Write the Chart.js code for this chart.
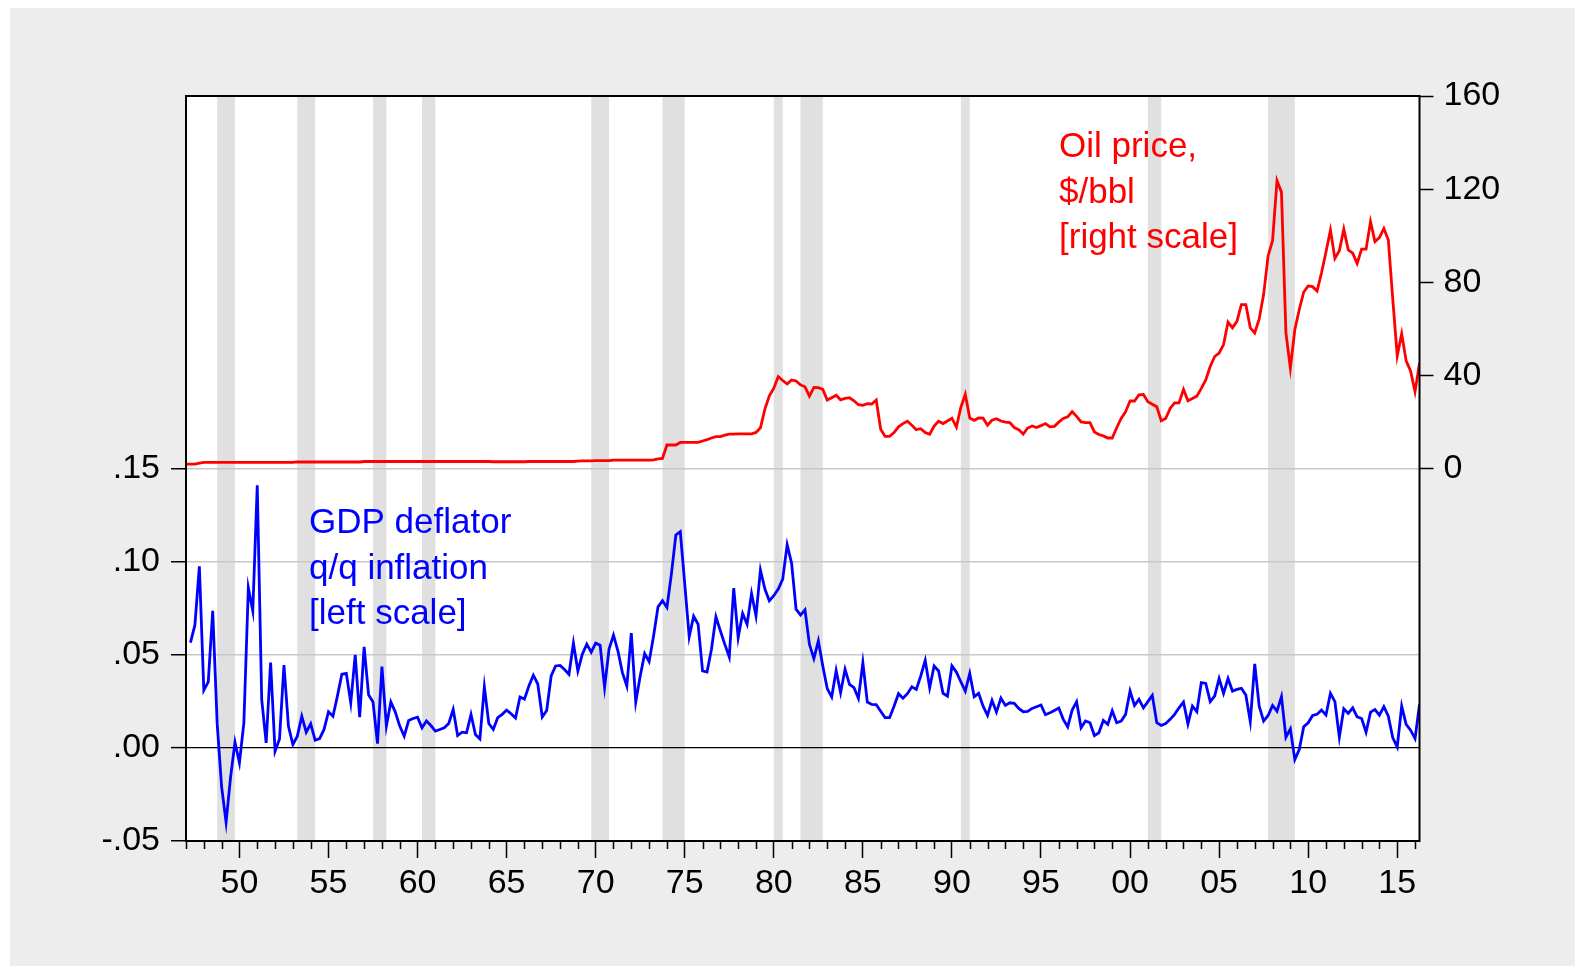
<!DOCTYPE html>
<html>
<head>
<meta charset="utf-8">
<script src="https://cdn.jsdelivr.net/npm/chart.js@4.4.1/dist/chart.umd.min.js"></script>
<style>
  html, body { margin: 0; padding: 0; background: #ffffff; }
  canvas { display: block; }
</style>
</head>
<body>
<canvas id="oilChart" width="1585" height="974"></canvas>
<script>
// quarterly data, 1947Q1 .. 2016Q2, one row per year
var firstYear = 1947;

// GDP deflator q/q inflation (left scale), no value for 1947Q1
var inflation = [
  null, 0.0565, 0.0659, 0.0975,
  0.0309, 0.0354, 0.0736, 0.013,
  -0.021, -0.040, -0.016, 0.003,
  -0.008, 0.0135, 0.086, 0.0736,
  0.141, 0.026, 0.0027, 0.0458,
  -0.0018, 0.0048, 0.0445, 0.0117,
  0.0018, 0.0063, 0.017, 0.0084,
  0.0129, 0.0041, 0.005, 0.0099,
  0.0194, 0.017, 0.0278, 0.0395,
  0.040, 0.0242, 0.0499, 0.0165,
  0.0542, 0.0285, 0.0246, 0.0023,
  0.0436, 0.0117, 0.0246, 0.0192,
  0.0117, 0.0063, 0.0147, 0.0158,
  0.0165, 0.0108, 0.0144, 0.012,
  0.009, 0.0099, 0.0108, 0.0131,
  0.0206, 0.0066, 0.0084, 0.0081,
  0.018, 0.0072, 0.0048, 0.0328,
  0.0131, 0.0099, 0.0162, 0.018,
  0.0203, 0.0183, 0.016, 0.0273,
  0.0262, 0.0332, 0.039, 0.0343,
  0.0166, 0.0201, 0.0386, 0.044,
  0.0443, 0.0421, 0.0395, 0.0562,
  0.0413, 0.0503, 0.0557, 0.0514,
  0.0562, 0.0551, 0.0325, 0.053,
  0.0605, 0.052, 0.0404, 0.0332,
  0.0616, 0.0246, 0.0386, 0.0506,
  0.0463, 0.0601, 0.0757, 0.079,
  0.0754, 0.0933, 0.1143, 0.1161,
  0.088, 0.0596, 0.0707, 0.0664,
  0.0413, 0.0407, 0.053, 0.0704,
  0.0628, 0.0556, 0.0488, 0.0858,
  0.0592, 0.0722, 0.0664, 0.0829,
  0.0709, 0.0955, 0.0853, 0.079,
  0.0817, 0.0853, 0.0906, 0.1091,
  0.0991, 0.0745, 0.0713, 0.0741,
  0.0556, 0.0479, 0.0574, 0.044,
  0.0318, 0.0273, 0.0416, 0.0296,
  0.0422, 0.0341, 0.0323, 0.0266,
  0.0458, 0.0246, 0.0233, 0.0232,
  0.0197, 0.0162, 0.0162, 0.0224,
  0.0291, 0.0266, 0.0291, 0.0328,
  0.0314, 0.0386, 0.047, 0.0323,
  0.044, 0.0413, 0.0293, 0.0278,
  0.044, 0.0407, 0.0355, 0.0305,
  0.04, 0.0275, 0.0293, 0.0224,
  0.0174, 0.0255, 0.0192, 0.0267,
  0.0228, 0.0242, 0.0239, 0.0212,
  0.0194, 0.0196, 0.0212, 0.0221,
  0.023, 0.0178, 0.0188, 0.0201,
  0.0214, 0.0153, 0.0113, 0.0203,
  0.0248, 0.0108, 0.0144, 0.0135,
  0.0066, 0.0081, 0.0147, 0.0126,
  0.0199, 0.0135, 0.0144, 0.018,
  0.0305, 0.0228, 0.026, 0.0215,
  0.0248, 0.0282, 0.0135, 0.012,
  0.0131, 0.0153, 0.018, 0.0215,
  0.0246, 0.0129, 0.0224, 0.0194,
  0.035, 0.0346, 0.0248, 0.0278,
  0.0372, 0.0293, 0.0372, 0.0305,
  0.0314, 0.032, 0.0284, 0.0142,
  0.0451, 0.0224, 0.0144, 0.0174,
  0.0228, 0.0197, 0.0275, 0.0057,
  0.0102, -0.0063, -0.0009, 0.0113,
  0.0135, 0.0174, 0.018, 0.0203,
  0.0176, 0.0293, 0.0248, 0.0057,
  0.021, 0.0185, 0.0215, 0.0167,
  0.0158, 0.0084, 0.0192, 0.0206,
  0.0176, 0.0221, 0.017, 0.0054,
  0.0005, 0.0224, 0.0126, 0.0095,
  0.005, 0.0233
];

// oil price, $/bbl (right scale)
var oilPrice = [
  1.9, 1.9, 1.9, 2.3,
  2.6, 2.6, 2.6, 2.6,
  2.6, 2.6, 2.6, 2.6,
  2.6, 2.6, 2.6, 2.6,
  2.6, 2.6, 2.6, 2.6,
  2.6, 2.6, 2.6, 2.6,
  2.6, 2.8, 2.8, 2.8,
  2.8, 2.8, 2.8, 2.8,
  2.8, 2.8, 2.8, 2.8,
  2.8, 2.8, 2.8, 2.8,
  3.0, 3.0, 3.0, 3.0,
  3.0, 3.0, 3.0, 3.0,
  3.0, 3.0, 3.0, 3.0,
  3.0, 3.0, 3.0, 3.0,
  3.0, 3.0, 3.0, 3.0,
  3.0, 3.0, 3.0, 3.0,
  3.0, 3.0, 3.0, 3.0,
  3.0, 2.9, 2.9, 2.9,
  2.9, 2.9, 2.9, 2.9,
  2.9, 3.0, 3.0, 3.0,
  3.0, 3.0, 3.0, 3.0,
  3.0, 3.0, 3.0, 3.0,
  3.2, 3.3, 3.3, 3.3,
  3.35, 3.35, 3.35, 3.35,
  3.6, 3.6, 3.6, 3.6,
  3.6, 3.6, 3.6, 3.6,
  3.6, 3.7, 4.1, 4.3,
  10.1, 10.1, 10.1, 11.2,
  11.2, 11.2, 11.2, 11.2,
  11.8, 12.4, 13.1, 13.7,
  13.7, 14.3, 14.8, 14.8,
  14.85, 14.85, 14.85, 14.85,
  15.5, 17.5, 25.5, 31.2,
  34.5, 39.5, 37.8, 36.3,
  38.0, 37.6, 35.9, 35.1,
  31.1, 34.8, 34.7, 34.0,
  29.4, 30.4, 31.5, 29.5,
  30.1, 30.4, 29.1, 27.4,
  27.1, 27.8, 27.7, 29.4,
  16.9, 13.8, 13.8, 15.4,
  17.9, 19.3, 20.3, 18.6,
  16.7, 17.1, 15.4, 14.7,
  18.2, 20.3, 19.3, 20.4,
  21.6, 17.8, 26.2, 31.9,
  21.7, 20.7, 21.7, 21.6,
  18.6, 20.7, 21.4, 20.4,
  19.9, 19.7, 17.6, 16.7,
  14.8, 17.4, 18.3, 17.6,
  18.4, 19.3, 17.9, 18.1,
  19.9, 21.5, 22.2, 24.4,
  22.4, 20.0, 19.7, 19.7,
  15.7, 14.6, 14.0, 13.1,
  13.1, 17.5, 21.5, 24.4,
  29.0, 29.0, 31.6, 31.8,
  28.7, 27.6, 26.5, 20.5,
  21.5, 25.8, 28.2, 28.2,
  34.0, 29.1, 30.1, 31.1,
  34.4, 38.0, 43.8, 48.1,
  49.6, 53.2, 62.9, 60.4,
  63.2, 70.4, 70.4, 60.4,
  58.2, 64.2, 74.8, 91.3,
  97.8, 123.7, 118.7, 58.2,
  43.1, 59.6, 68.3, 75.8,
  78.4, 78.1, 76.2, 84.1,
  93.0, 102.4, 90.2, 93.5,
  102.8, 93.9, 92.5, 88.1,
  94.2, 94.2, 106.0, 97.5,
  99.2, 103.1, 98.1, 72.6,
  48.4, 57.9, 46.2, 41.9,
  33.0, 45.2
];

// NBER recessions, peak to trough (fractional years)
var recessions = [
  [1948.75, 1949.75], [1953.25, 1954.25], [1957.5, 1958.25], [1960.25, 1961.0],
  [1969.75, 1970.75], [1973.75, 1975.0], [1980.0, 1980.5], [1981.5, 1982.75],
  [1990.5, 1991.0], [2001.0, 2001.75], [2007.75, 2009.25]
];

var leftRange = [-0.05, 0.35];
var rightRange = [-160, 160];
var leftLabelMax = 0.15;   // left scale labelled from -.05 to .15
var rightLabelMin = 0;     // right scale labelled from 0 to 160
var xRange = [1947, 2016.25];

var inflationNote = ['GDP deflator', 'q/q inflation', '[left scale]'];
var oilNote = ['Oil price,', '$/bbl', '[right scale]'];

var FONT = '"Liberation Sans", Arial, Helvetica, sans-serif';

function toPoints(values) {
  var pts = [];
  for (var i = 0; i < values.length; i++) {
    if (values[i] === null) continue;
    pts.push({ x: firstYear + i / 4, y: values[i] });
  }
  return pts;
}

function leftLabel(v) {
  var n = Math.round(v * 100);
  if (n > leftLabelMax * 100) return '';
  var s = String(Math.abs(n));
  if (s.length < 2) s = '0' + s;
  return (n < 0 ? '-.' : '.') + s;
}

var eviewsPlugin = {
  id: 'eviews',
  beforeDraw: function (chart) {
    var ctx = chart.ctx, a = chart.chartArea, x = chart.scales.x;
    ctx.save();
    ctx.fillStyle = '#ffffff';
    ctx.fillRect(0, 0, chart.width, chart.height);
    ctx.fillStyle = '#ededed';
    ctx.fillRect(10, 8, 1565, 958);
    ctx.fillStyle = '#ffffff';
    ctx.fillRect(a.left, a.top, a.right - a.left, a.bottom - a.top);
    // recession shading
    ctx.fillStyle = '#e0e0e0';
    recessions.forEach(function (r) {
      var x0 = x.getPixelForValue(r[0]);
      var x1 = x.getPixelForValue(r[1]);
      ctx.fillRect(x0, a.top, x1 - x0, a.bottom - a.top);
    });
    ctx.restore();
  },
  afterDraw: function (chart) {
    var ctx = chart.ctx, a = chart.chartArea, x = chart.scales.x;
    ctx.save();
    // minor (yearly) tick marks
    ctx.strokeStyle = '#000000';
    ctx.lineWidth = 1.5;
    x.ticks.forEach(function (t) {
      if (t.value % 5 === 0) return;
      var px = Math.round(x.getPixelForValue(t.value)) + 0.5;
      ctx.beginPath();
      ctx.moveTo(px, a.bottom);
      ctx.lineTo(px, a.bottom + 8);
      ctx.stroke();
    });
    // plot frame
    ctx.lineWidth = 2;
    ctx.strokeRect(a.left, a.top, a.right - a.left, a.bottom - a.top);
    // notes
    ctx.font = '35px ' + FONT;
    ctx.textAlign = 'left';
    ctx.textBaseline = 'alphabetic';
    ctx.fillStyle = '#0000ff';
    inflationNote.forEach(function (t, k) { ctx.fillText(t, 309, 533 + k * 45.7); });
    ctx.fillStyle = '#ff0000';
    oilNote.forEach(function (t, k) { ctx.fillText(t, 1059, 157 + k * 45.7); });
    ctx.restore();
  }
};

var ctx = document.getElementById('oilChart').getContext('2d');
var oilChart = new Chart(ctx, {
  type: 'line',
  data: {
    datasets: [{
      label: 'Oil price',
      data: toPoints(oilPrice),
      yAxisID: 'y1',
      borderColor: '#ff0000',
      borderWidth: 2.8,
      pointRadius: 0,
      tension: 0,
      fill: false
    }, {
      label: 'GDP deflator q/q inflation',
      data: toPoints(inflation),
      yAxisID: 'y',
      borderColor: '#0000ff',
      borderWidth: 2.8,
      pointRadius: 0,
      tension: 0,
      fill: false
    }]
  },
  options: {
    responsive: false,
    devicePixelRatio: 1,
    animation: false,
    events: [],
    layout: { padding: { top: 96, left: 0, right: 0, bottom: 0 } },
    plugins: {
      legend: { display: false },
      tooltip: { enabled: false }
    },
    scales: {
      x: {
        type: 'linear',
        position: 'bottom',
        min: xRange[0],
        max: xRange[1],
        afterFit: function (scale) { scale.height = 133; },
        border: { display: false },
        grid: {
          drawOnChartArea: false,
          drawTicks: true,
          tickLength: 17,
          tickWidth: 1.5,
          tickColor: function (c) { return c.tick && c.tick.value % 5 === 0 ? '#000000' : 'rgba(0,0,0,0)'; }
        },
        ticks: {
          stepSize: 1,
          includeBounds: false,
          autoSkip: false,
          maxTicksLimit: 100,
          maxRotation: 0,
          minRotation: 0,
          padding: 5,
          color: '#000000',
          font: { family: FONT, size: 34 },
          callback: function (v) {
            if (v % 5 !== 0) return '';
            var s = String(v % 100);
            return s.length < 2 ? '0' + s : s;
          }
        }
      },
      y: {
        type: 'linear',
        position: 'left',
        min: leftRange[0],
        max: leftRange[1],
        afterFit: function (scale) { scale.width = 186; },
        border: { display: false },
        grid: {
          drawTicks: true,
          tickLength: 15,
          tickWidth: 1.5,
          color: function (c) {
            if (!c.tick) return 'rgba(0,0,0,0)';
            var n = Math.round(c.tick.value * 100);
            if (n === 0) return '#000000';
            if (n > 0 && n <= 15) return '#c8c8c8';
            return 'rgba(0,0,0,0)';
          },
          lineWidth: function (c) {
            if (!c.tick) return 1;
            return Math.round(c.tick.value * 100) === 0 ? 1.2 : 1.5;
          },
          tickColor: function (c) {
            if (!c.tick) return 'rgba(0,0,0,0)';
            return Math.round(c.tick.value * 100) <= 15 ? '#000000' : 'rgba(0,0,0,0)';
          }
        },
        ticks: {
          stepSize: 0.05,
          padding: 11,
          color: '#000000',
          font: { family: FONT, size: 34 },
          callback: function (v) { return leftLabel(v); }
        }
      },
      y1: {
        type: 'linear',
        position: 'right',
        min: rightRange[0],
        max: rightRange[1],
        afterFit: function (scale) { scale.width = 165.5; },
        border: { display: false },
        grid: {
          drawOnChartArea: false,
          drawTicks: true,
          tickLength: 14,
          tickWidth: 1.5,
          tickColor: function (c) {
            return c.tick && c.tick.value >= rightLabelMin ? '#000000' : 'rgba(0,0,0,0)';
          }
        },
        ticks: {
          stepSize: 40,
          padding: 10,
          color: '#000000',
          font: { family: FONT, size: 34 },
          callback: function (v) { return v >= rightLabelMin ? String(v) : ''; }
        }
      }
    }
  },
  plugins: [eviewsPlugin]
});
</script>
</body>
</html>
